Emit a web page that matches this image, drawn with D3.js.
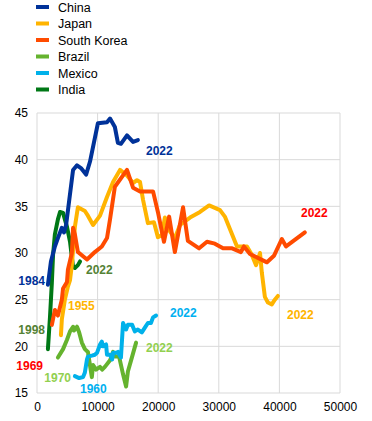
<!DOCTYPE html>
<html>
<head>
<meta charset="utf-8">
<script src="https://cdn.jsdelivr.net/npm/d3@7"></script>
<style>
  body { margin: 0; background: #fff; }
  text { font-family: "Liberation Sans", Arial, sans-serif; }
</style>
</head>
<body>
<div id="chart"></div>
<script>
// chart size
const width = 372;
const height = 421;
const margin = {left: 37, right: 32, top: 113, bottom: 28};

// series: GDP per capita (x) and share (y)
const countries = ["China", "Japan", "South Korea", "Brazil", "Mexico", "India"];

const chinaX = [1800, 2300, 2950, 3450, 4100, 4450, 4800, 5950, 6600, 7250, 8100, 8750, 10050, 11550, 12050, 12850, 13350, 13850, 14850, 15850, 16650];
const chinaY = [26.6, 29.1, 30.7, 31.6, 32.7, 32.2, 33.0, 38.9, 39.4, 39.1, 38.4, 39.8, 43.9, 44.0, 44.4, 43.5, 41.8, 41.7, 42.6, 41.9, 42.1];

const japanX = [3950, 4100, 4600, 5100, 5450, 5750, 5950, 6250, 6750, 7900, 8400, 9250, 10400, 11550, 12550, 13700, 14850, 15850, 16500, 17000, 17500, 18300, 19300, 19950, 20600, 21100, 21950, 22750, 23600, 25250, 26900, 28400, 30200, 31000, 32000, 33000, 34650, 35450, 36150, 36800, 37100, 37600, 38100, 38750, 39250, 39750];
const japanY = [21.2, 22.9, 25.0, 26.4, 27.1, 28.7, 30.3, 32.8, 34.9, 34.5, 34.0, 33.0, 34.0, 36.0, 37.6, 38.9, 38.3, 37.5, 37.8, 37.6, 35.7, 33.2, 33.3, 31.7, 31.9, 33.8, 32.3, 31.6, 33.0, 33.8, 34.4, 35.1, 34.6, 33.9, 32.3, 30.7, 30.7, 29.8, 28.7, 30.0, 27.9, 25.3, 24.7, 24.5, 25.0, 25.4];

const koreaX = [2450, 2950, 3450, 4100, 4300, 4950, 5100, 5750, 5950, 6250, 6750, 8250, 9550, 10700, 11550, 12050, 12850, 14850, 15850, 17000, 19150, 19950, 20950, 21800, 22750, 24100, 24900, 26750, 28050, 29350, 30700, 32200, 33650, 34150, 35150, 37950, 39100, 40400, 41100, 44200];
const koreaY = [22.3, 23.9, 23.3, 25.0, 26.2, 26.9, 28.2, 30.0, 32.7, 32.0, 30.1, 29.3, 30.1, 30.7, 31.6, 33.6, 37.1, 38.9, 37.0, 36.6, 36.6, 34.4, 31.2, 33.9, 30.1, 34.9, 31.3, 30.5, 31.2, 31.0, 30.5, 30.5, 30.1, 30.7, 29.9, 29.0, 29.7, 31.5, 30.7, 32.2];

const brazilX = [3450, 4300, 4950, 5450, 5950, 6100, 6600, 6950, 7400, 7900, 8400, 9050, 9250, 9750, 10400, 10750, 11200, 12050, 12550, 12850, 13550, 14200, 14700, 15000, 15700, 16350];
const brazilY = [18.8, 19.7, 20.7, 21.6, 22.1, 21.7, 22.1, 21.5, 20.4, 19.7, 19.4, 16.7, 18.0, 17.5, 17.8, 17.5, 17.8, 18.5, 19.4, 18.9, 18.9, 17.0, 15.7, 17.3, 18.9, 20.4];

const mexicoX = [6250, 6950, 7600, 7900, 8250, 8400, 9050, 9550, 9900, 10400, 10700, 10900, 11400, 11550, 12050, 12400, 12550, 13050, 13350, 13850, 14200, 14700, 15000, 15700, 16150, 16650, 17300, 17800, 18300, 18800, 19150, 19650];
const mexicoY = [16.8, 16.6, 16.7, 17.2, 18.6, 18.9, 19.0, 19.1, 19.3, 20.2, 20.5, 20.0, 20.2, 19.1, 19.1, 18.6, 19.3, 19.3, 19.4, 18.8, 22.5, 21.8, 22.3, 22.3, 21.6, 21.8, 21.5, 22.0, 22.5, 22.5, 23.1, 23.3];

const indiaX = [1800, 2150, 2450, 2650, 2950, 3450, 3800, 4300, 4950, 5450, 5950, 6250, 6750, 7100];
const indiaY = [19.7, 23.2, 26.8, 29.8, 32.0, 33.6, 34.4, 34.3, 32.8, 31.2, 28.5, 28.4, 28.7, 29.1];

const xTicks = [0, 10000, 20000, 30000, 40000, 50000];
const yTicks = [15, 20, 25, 30, 35, 40, 45];

// colours
const lineColors = ["#003299", "#FFB400", "#FF4B00", "#65B32E", "#00B1EA", "#007816"];
const labelColors = ["#003299", "#FFB400", "#FF0000", "#92D050", "#00B0F0", "#548235"];

const series = [
    {x: chinaX, y: chinaY},
    {x: japanX, y: japanY},
    {x: koreaX, y: koreaY},
    {x: brazilX, y: brazilY},
    {x: mexicoX, y: mexicoY},
    {x: indiaX, y: indiaY}
];

const svg = d3.select("#chart").append("svg")
    .attr("width", width)
    .attr("height", height);

const xScale = d3.scaleLinear().domain([0, 50000]).range([margin.left, width - margin.right]);
const yScale = d3.scaleLinear().domain([15, 45]).range([height - margin.bottom, margin.top]);

// gridlines
svg.append("g").selectAll("line").data(xTicks).enter()
    .append("line")
    .attr("x1", d => xScale(d)).attr("x2", d => xScale(d))
    .attr("y1", yScale(15)).attr("y2", yScale(45))
    .attr("stroke", "#d9d9d9").attr("stroke-width", 1);
svg.append("g").selectAll("line").data(yTicks).enter()
    .append("line")
    .attr("x1", xScale(0)).attr("x2", xScale(50000))
    .attr("y1", d => yScale(d)).attr("y2", d => yScale(d))
    .attr("stroke", "#d9d9d9").attr("stroke-width", 1);

// axes (labels only)
const xAxis = d3.axisBottom(xScale).tickValues(xTicks).tickSize(0).tickPadding(9).tickFormat(d3.format("d"));
const yAxis = d3.axisLeft(yScale).tickValues(yTicks).tickSize(0).tickPadding(9);
svg.append("g").attr("transform", `translate(0,${yScale(15)})`).call(xAxis)
    .call(g => g.select(".domain").remove())
    .selectAll("text").attr("font-size", 12).attr("fill", "#000").attr("font-family", "Liberation Sans, Arial, sans-serif");
svg.append("g").attr("transform", `translate(${xScale(0)},0)`).call(yAxis)
    .call(g => g.select(".domain").remove())
    .selectAll("text").attr("font-size", 12).attr("fill", "#000").attr("font-family", "Liberation Sans, Arial, sans-serif");

// lines (drawn so that China ends on top like the original)
const line = d3.line().x(d => xScale(d[0])).y(d => yScale(d[1]));
const drawOrder = [3, 4, 5, 1, 2, 0];
drawOrder.forEach(i => {
    const pts = series[i].x.map((v, j) => [v, series[i].y[j]]);
    svg.append("path")
        .datum(pts)
        .attr("d", line)
        .attr("fill", "none")
        .attr("stroke", lineColors[i])
        .attr("stroke-width", 4)
        .attr("stroke-linejoin", "round")
        .attr("stroke-linecap", "round");
});

// year labels: [series index, text, x value, y value (baseline), anchor]
const yearLabels = [
    [0, "1984", 1320, 26.6, "end"],
    [0, "2022", 17990, 40.5, "start"],
    [1, "1955", 5115, 23.9, "start"],
    [1, "2022", 41250, 22.9, "start"],
    [2, "1969", 990, 17.5, "end"],
    [2, "2022", 43560, 33.9, "start"],
    [3, "1970", 5610, 16.2, "end"],
    [3, "2022", 17990, 19.4, "start"],
    [4, "1960", 7100, 15.0, "start"],
    [4, "2022", 21950, 23.1, "start"],
    [5, "1998", 1320, 21.3, "end"],
    [5, "2022", 8085, 27.7, "start"]
];
svg.append("g").selectAll("text").data(yearLabels).enter()
    .append("text")
    .attr("x", d => xScale(d[2]))
    .attr("y", d => yScale(d[3]))
    .attr("text-anchor", d => d[4])
    .attr("font-size", 12)
    .attr("font-weight", "bold")
    .attr("fill", d => labelColors[d[0]])
    .text(d => d[1]);

// legend
const legend = svg.append("g").attr("transform", "translate(36,7)");
countries.forEach((c, i) => {
    const g = legend.append("g").attr("transform", `translate(0,${i * 16.5})`);
    g.append("rect").attr("x", 0).attr("y", -2).attr("width", 13).attr("height", 4).attr("fill", lineColors[i]);
    g.append("text").attr("x", 22).attr("y", 4.5).attr("font-size", 12.5).attr("fill", "#000").text(c);
});
</script>
</body>
</html>
